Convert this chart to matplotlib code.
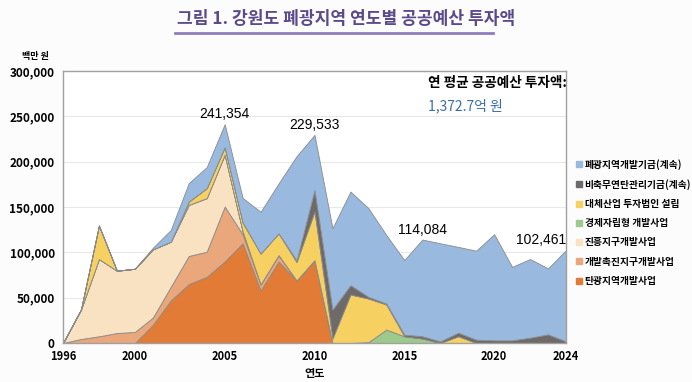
import matplotlib
matplotlib.use("Agg")
import matplotlib.pyplot as plt
from matplotlib.lines import Line2D
import numpy as np

plt.rcParams['font.family'] = ['Noto Sans CJK KR', 'DejaVu Sans']

years = list(range(1996, 2025))
# values in 백만 원, stack order bottom -> top
coal_region = [0, 0, 0, 0, 0, 20000, 47000, 65000, 73000, 90000, 110000, 58000, 90000, 69000, 91500,
               0, 0, 0, 0, 0, 0, 0, 0, 0, 0, 0, 0, 0, 0]
promo_district = [0, 4400, 7400, 11000, 12200, 8000, 15000, 31000, 27700, 60500, 10000, 6700, 7000, 0, 0,
                  0, 0, 0, 0, 0, 0, 0, 0, 0, 0, 0, 0, 0, 0]
develop_district = [0, 32500, 85200, 68700, 69700, 75300, 49800, 56400, 59100, 57200, 3000, 0, 0, 0, 0,
                    0, 0, 0, 0, 0, 0, 0, 0, 0, 0, 0, 0, 0, 0]
econ_self = [0, 0, 0, 0, 0, 0, 0, 0, 0, 0, 0, 0, 0, 0, 0,
             0, 0, 1000, 14800, 7400, 5000, 0, 0, 0, 0, 0, 0, 0, 0]
alt_industry = [0, 0, 36900, 0, 0, 0, 0, 3600, 11000, 8300, 10000, 34000, 24000, 20300, 53500,
                5000, 53500, 48000, 27600, 0, 0, 0, 7400, 0, 0, 0, 0, 0, 0]
anthracite_fund = [0, 0, 0, 0, 0, 0, 0, 0, 0, 0, 0, 0, 0, 1800, 24000,
                   32000, 10300, 2000, 1100, 1800, 2500, 1800, 4000, 3700, 3000, 3000, 5900, 9600, 1800]
closed_mine_fund = [0, 0, 0, 0, 0, 1700, 12900, 20400, 23200, 25354, 27000, 46000, 55000, 114900, 60533,
                    89600, 103200, 97700, 75500, 82300, 106584, 108200, 94600, 98100, 117000, 81000, 86700, 72700, 100661]

series_names = ['탄광지역개발사업', '개발촉진지구개발사업', '진흥지구개발사업', '경제자립형 개발사업',
                '대체산업 투자법인 설립', '비축무연탄관리기금(계속)', '폐광지역개발기금(계속)']
colors = ['#e27b36', '#eaa77b', '#f9e2c2', '#9dc98c', '#f6d061', '#6e6a6a', '#99bade']

peak_years = [2005, 2010, 2016, 2024]
peak_labels = ['241,354', '229,533', '114,084', '102,461']

x_ticks = [1996, 2000, 2005, 2010, 2015, 2020, 2024]
y_ticks = [0, 50000, 100000, 150000, 200000, 250000, 300000]
y_ticklabels = ['0', '50,000', '100,000', '150,000', '200,000', '250,000', '300,000']

fig = plt.figure(figsize=(6.92, 3.82), dpi=100)
fig.patch.set_facecolor('#fcfcfc')
ax = fig.add_axes([63/692, 1-343/382, 503/692, 272/382])

data = [coal_region, promo_district, develop_district, econ_self, alt_industry, anthracite_fund, closed_mine_fund]
ax.stackplot(years, *data, colors=colors, edgecolor='#8a8a8a', linewidth=0.6)

ax.set_xlim(1996, 2024)
ax.set_ylim(0, 300000)
ax.set_xticks(x_ticks)
ax.set_xticklabels([str(v) for v in x_ticks], fontsize=8, fontweight='bold')
ax.set_yticks(y_ticks)
ax.set_yticklabels(y_ticklabels, fontsize=8.5, fontweight='bold')
ax.tick_params(axis='x', length=0, pad=5)
ax.tick_params(axis='y', length=0, pad=6)
ax.grid(axis='y', color='#e8e8e8', linewidth=0.8)
ax.set_axisbelow(True)
for s in ax.spines.values():
    s.set_color('#a0a0a0')
    s.set_linewidth(1.0)

totals = np.sum(np.array(data), axis=0)
for yr, lab in zip(peak_years, peak_labels):
    i = years.index(yr)
    ha = 'right' if yr == 2024 else 'center'
    ax.annotate(lab, (yr, totals[i]), xytext=(0, 2), textcoords='offset points',
                ha=ha, va='bottom', fontsize=10, family=['Liberation Sans', 'DejaVu Sans'])

ax.set_xlabel('연도', fontsize=8, fontweight='bold', labelpad=3)

fig.text(22/692, 1-57/382, '백만 원', fontsize=6.5, fontweight='bold', ha='left', va='center')

ax.text(0.725, 0.955, '연 평균 공공예산 투자액:', transform=ax.transAxes, fontsize=9.8,
        fontweight='bold', ha='left', va='center')
ax.text(0.725, 0.87, '1,372.7억 원', transform=ax.transAxes, fontsize=10,
        color='#3b6ea8', ha='left', va='center')

# title
fig.text(0.5, 1-19/382, '그림 1. 강원도 폐광지역 연도별 공공예산 투자액', fontsize=12.3,
         fontweight='bold', color='#5a4a8c', ha='center', va='center')
fig.add_artist(Line2D([175/692, 493/692], [1-33/382, 1-33/382], color='#8f7dbf', linewidth=2,
                      transform=fig.transFigure))

# legend
handles = [Line2D([], [], marker='s', linestyle='none', markersize=4.5, markerfacecolor=c,
                  markeredgecolor=c) for c in colors[::-1]]
leg = fig.legend(handles, series_names[::-1], loc='upper left', bbox_to_anchor=(570/692, 1-155/382),
                 frameon=False, prop={'size': 7, 'weight': 'bold'}, handletextpad=0.1,
                 labelspacing=0.95, handlelength=1.0, borderaxespad=0)

fig.savefig('out.png', dpi=100, facecolor=fig.get_facecolor())
